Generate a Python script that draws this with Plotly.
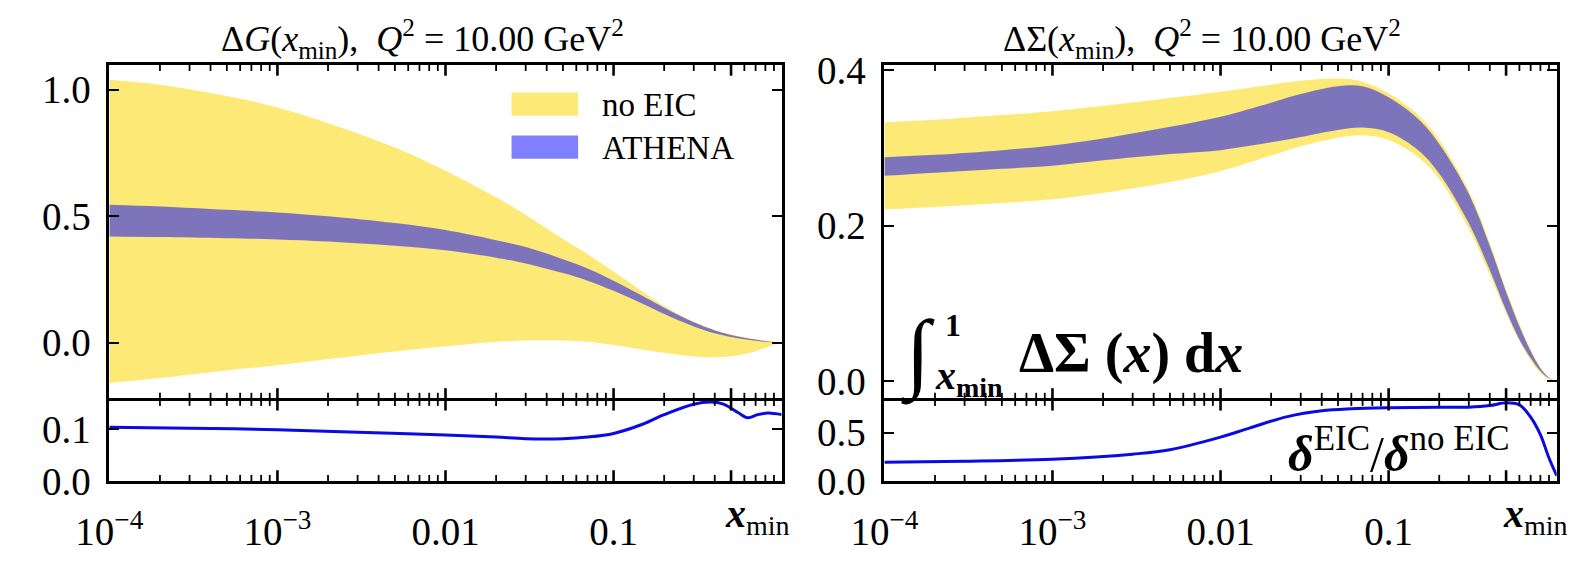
import math
import plotly.graph_objects as go

W, H = 1588, 565

# ---------------- data ----------------
x_grid = [1e-4, 2e-4, 5e-4, 1e-3, 2e-3, 5e-3, 0.01, 0.02, 0.03, 0.05, 0.07,
          0.1, 0.15, 0.2, 0.3, 0.4, 0.5, 0.6, 0.7, 0.8, 0.9, 1.0]

# Delta G (x_min) bands
dg_noeic_hi = [1.04, 1.02, 0.975, 0.93, 0.868, 0.772, 0.68, 0.575, 0.505, 0.41, 0.35,
               0.28, 0.2, 0.145, 0.083, 0.05, 0.032, 0.021, 0.013, 0.007, 0.003, 0.0]
dg_noeic_lo = [-0.16, -0.14, -0.11, -0.09, -0.065, -0.035, -0.015, 0.003, 0.008, 0.008, 0.003,
               -0.01, -0.028, -0.04, -0.055, -0.058, -0.054, -0.045, -0.034, -0.021, -0.009, 0.0]
dg_athena_hi = [0.545, 0.538, 0.525, 0.515, 0.50, 0.473, 0.445, 0.405, 0.378, 0.33, 0.293,
                0.245, 0.183, 0.138, 0.08, 0.048, 0.03, 0.019, 0.012, 0.006, 0.0025, 0.0]
dg_athena_lo = [0.42, 0.418, 0.413, 0.408, 0.40, 0.383, 0.365, 0.336, 0.313, 0.275, 0.245,
                0.205, 0.153, 0.113, 0.064, 0.037, 0.022, 0.013, 0.007, 0.003, 0.001, 0.0]

# Delta Sigma (x_min) bands
ds_noeic_hi = [0.333, 0.336, 0.342, 0.347, 0.354, 0.364, 0.372, 0.381, 0.386, 0.389, 0.385,
               0.37, 0.342, 0.31, 0.245, 0.178, 0.118, 0.074, 0.041, 0.018, 0.005, 0.0]
ds_noeic_lo = [0.221, 0.224, 0.229, 0.234, 0.242, 0.256, 0.27, 0.29, 0.302, 0.313, 0.316,
               0.31, 0.288, 0.26, 0.196, 0.137, 0.088, 0.052, 0.027, 0.011, 0.003, 0.0]
ds_athena_hi = [0.288, 0.291, 0.297, 0.303, 0.312, 0.327, 0.34, 0.358, 0.369, 0.379, 0.379,
                0.365, 0.337, 0.305, 0.241, 0.174, 0.115, 0.071, 0.039, 0.017, 0.0048, 0.0]
ds_athena_lo = [0.264, 0.268, 0.273, 0.277, 0.284, 0.292, 0.297, 0.307, 0.314, 0.323, 0.326,
                0.32, 0.297, 0.267, 0.203, 0.143, 0.091, 0.054, 0.03, 0.0135, 0.004, 0.0]

# ratio delta^EIC / delta^noEIC
xr_dg = [1e-4, 3e-4, 1e-3, 3e-3, 0.01, 0.02, 0.03, 0.05, 0.07, 0.1, 0.15, 0.2,
         0.3, 0.38, 0.45, 0.55, 0.63, 0.72, 0.83, 1.0]
dg_ratio = [0.104, 0.102, 0.099, 0.094, 0.089, 0.085, 0.082, 0.082, 0.085, 0.092, 0.11, 0.128,
            0.148, 0.152, 0.148, 0.132, 0.122, 0.128, 0.131, 0.128]

xr_ds = [1e-4, 3e-4, 1e-3, 3e-3, 5e-3, 0.01, 0.015, 0.025, 0.04, 0.06, 0.1, 0.2,
         0.3, 0.4, 0.5, 0.6, 0.7, 0.8, 0.9, 1.0]
ds_ratio = [0.196, 0.206, 0.228, 0.28, 0.325, 0.455, 0.55, 0.665, 0.725, 0.745, 0.755, 0.76,
            0.762, 0.778, 0.807, 0.785, 0.66, 0.48, 0.24, 0.06]

major_x = [1e-4, 1e-3, 0.01, 0.1, 0.5, 1.0]
major_x_text = ["10<sup>\u22124</sup>", "10<sup>\u22123</sup>", "0.01", "0.1", "", ""]

# ---------------- styles ----------------
YELLOW = "rgb(253,233,118)"
BLUE_A = "rgba(0,0,255,0.5)"
BLUE_LEG = "rgb(128,128,255)"
LINE_BLUE = "rgb(10,10,225)"
FONT = "Liberation Serif"
LW = 2.5

minor_vals = [m * 10.0 ** e for e in range(-4, 0) for m in range(2, 10)
              if not (e == -1 and m == 5)]


def px(xp):
    return xp / W


def py(yp):
    return 1 - yp / H


XL_PX = (77, 764)
XR_PX = (869, 1556)
XL = [px(XL_PX[0]), px(XL_PX[1])]
XR = [px(XR_PX[0]), px(XR_PX[1])]
MAIN_TOP, BOUND, RAT_BOT = 52, 411, 499
Y_MAIN = [py(BOUND - LW / 2), py(MAIN_TOP)]
Y_RAT = [py(RAT_BOT), py(BOUND + LW / 2)]

fig = go.Figure()


def band(xv, lo, hi, color, xa, ya):
    fig.add_trace(go.Scatter(x=xv, y=lo, mode="lines", line=dict(width=0, shape="spline"),
                             xaxis=xa, yaxis=ya, showlegend=False, hoverinfo="skip"))
    fig.add_trace(go.Scatter(x=xv, y=hi, mode="lines", line=dict(width=0, shape="spline"),
                             fill="tonexty", fillcolor=color,
                             xaxis=xa, yaxis=ya, showlegend=False, hoverinfo="skip"))


band(x_grid, dg_noeic_lo, dg_noeic_hi, YELLOW, "x", "y")
band(x_grid, dg_athena_lo, dg_athena_hi, BLUE_A, "x", "y")
band(x_grid, ds_noeic_lo, ds_noeic_hi, YELLOW, "x3", "y3")
band(x_grid, ds_athena_lo, ds_athena_hi, BLUE_A, "x3", "y3")

fig.add_trace(go.Scatter(x=xr_dg, y=dg_ratio, mode="lines",
                         line=dict(color=LINE_BLUE, width=3, shape="spline"),
                         xaxis="x2", yaxis="y2", showlegend=False))
fig.add_trace(go.Scatter(x=xr_ds, y=ds_ratio, mode="lines",
                         line=dict(color=LINE_BLUE, width=3, shape="spline"),
                         xaxis="x4", yaxis="y4", showlegend=False))


def xaxis(domain, anchor, labels):
    return dict(type="log", range=[-4, 0], domain=domain, anchor=anchor,
                showline=True, linecolor="black", linewidth=LW, mirror=True,
                ticks="", tickmode="array", tickvals=major_x, ticktext=major_x_text,
                showticklabels=labels, ticklabelstandoff=14,
                tickfont=dict(family=FONT, size=39, color="black"),
                showgrid=False, zeroline=False)


def yaxis(domain, anchor, rng, vals, texts):
    return dict(range=rng, domain=domain, anchor=anchor,
                showline=True, linecolor="black", linewidth=LW, mirror="ticks",
                ticks="inside", ticklen=10, tickwidth=2.2, tickcolor="black",
                tickmode="array", tickvals=vals, ticktext=texts, ticklabelstandoff=8,
                tickfont=dict(family=FONT, size=39, color="black"),
                showgrid=False, zeroline=False)


fig.update_layout(
    width=W, height=H, margin=dict(l=0, r=0, t=0, b=0),
    paper_bgcolor="white", plot_bgcolor="white",
    xaxis=xaxis(XL, "y", False),
    yaxis=yaxis(Y_MAIN, "x", [-0.22, 1.10], [0, 0.5, 1.0], ["0.0", "0.5", "1.0"]),
    xaxis2=xaxis(XL, "y2", True),
    yaxis2=yaxis(Y_RAT, "x2", [0, 0.155], [0, 0.1], ["0.0", "0.1"]),
    xaxis3=xaxis(XR, "y3", False),
    yaxis3=yaxis(Y_MAIN, "x3", [-0.0215, 0.407], [0, 0.2, 0.4], ["0.0", "0.2", "0.4"]),
    xaxis4=xaxis(XR, "y4", True),
    yaxis4=yaxis(Y_RAT, "x4", [0, 0.83], [0, 0.5], ["0.0", "0.5"]),
    showlegend=False,
)

# x tick marks (inside, on both horizontal edges of every panel) drawn as paper shapes
shapes = []


def xticks(x_px, top_px, bot_px):
    span = x_px[1] - x_px[0]
    for vals, ln, wd in ((major_x[1:-1], 12, 2.6), (minor_vals, 7, 1.8)):
        for v in vals:
            xp = x_px[0] + span * (math.log10(v) + 4) / 4
            for ya, yb in ((top_px, top_px + ln), (bot_px - ln, bot_px)):
                shapes.append(dict(type="line", xref="paper", yref="paper",
                                   x0=px(xp), x1=px(xp), y0=py(ya), y1=py(yb),
                                   line=dict(color="black", width=wd), layer="above"))


xticks(XL_PX, MAIN_TOP, BOUND)
xticks(XL_PX, BOUND, RAT_BOT)
xticks(XR_PX, MAIN_TOP, BOUND)
xticks(XR_PX, BOUND, RAT_BOT)

# legend swatches
shapes.append(dict(type="rect", xref="paper", yref="paper", x0=px(488), x1=px(556),
                   y0=py(107), y1=py(82), fillcolor=YELLOW, line=dict(width=0)))
shapes.append(dict(type="rect", xref="paper", yref="paper", x0=px(488), x1=px(556),
                   y0=py(153), y1=py(128), fillcolor=BLUE_LEG, line=dict(width=0)))

ann = []


def text(xp, yp, s, size, xanchor="center", yanchor="middle", family=FONT):
    ann.append(dict(x=px(xp), y=py(yp), xref="paper", yref="paper", text=s,
                    showarrow=False, xanchor=xanchor, yanchor=yanchor,
                    font=dict(family=family, size=size, color="black")))


NB = "\u00a0"
text(397, 25, "\u0394<i>G</i>(<i>x</i><sub>min</sub>)," + NB * 2 + "<i>Q</i><sup>2</sup> = 10.00 GeV<sup>2</sup>", 36)
text(1194, 25, "\u0394\u03a3(<i>x</i><sub>min</sub>)," + NB * 2 + "<i>Q</i><sup>2</sup> = 10.00 GeV<sup>2</sup>", 36)

# x_min axis labels
text(704, 536, "<b><i>x</i></b><sub>min</sub>", 40, xanchor="left")
text(1499, 536, "<b><i>x</i></b><sub>min</sub>", 40, xanchor="left")

# legend text
text(578, 95, "no EIC", 33, xanchor="left")
text(578, 141, "ATHENA", 33, xanchor="left")

# integral label
text(903, 362, "\u222b", 88)
text(929, 331, "<b>1</b>", 32, xanchor="left")
text(919, 388, "<b><i>x</i><sub>min</sub></b>", 40, xanchor="left")
text(1004, 362, "<b>\u0394\u03a3" + NB + "(<i>x</i>)" + NB + "d<i>x</i></b>", 56, xanchor="left")

# ratio label
text(1510, 466, "<b><i>\u03b4</i></b><sup>EIC</sup>/<b><i>\u03b4</i></b><sup>no EIC</sup>",
     50, xanchor="right")

fig.update_layout(annotations=ann, shapes=shapes)
fig.write_html("out.html")
